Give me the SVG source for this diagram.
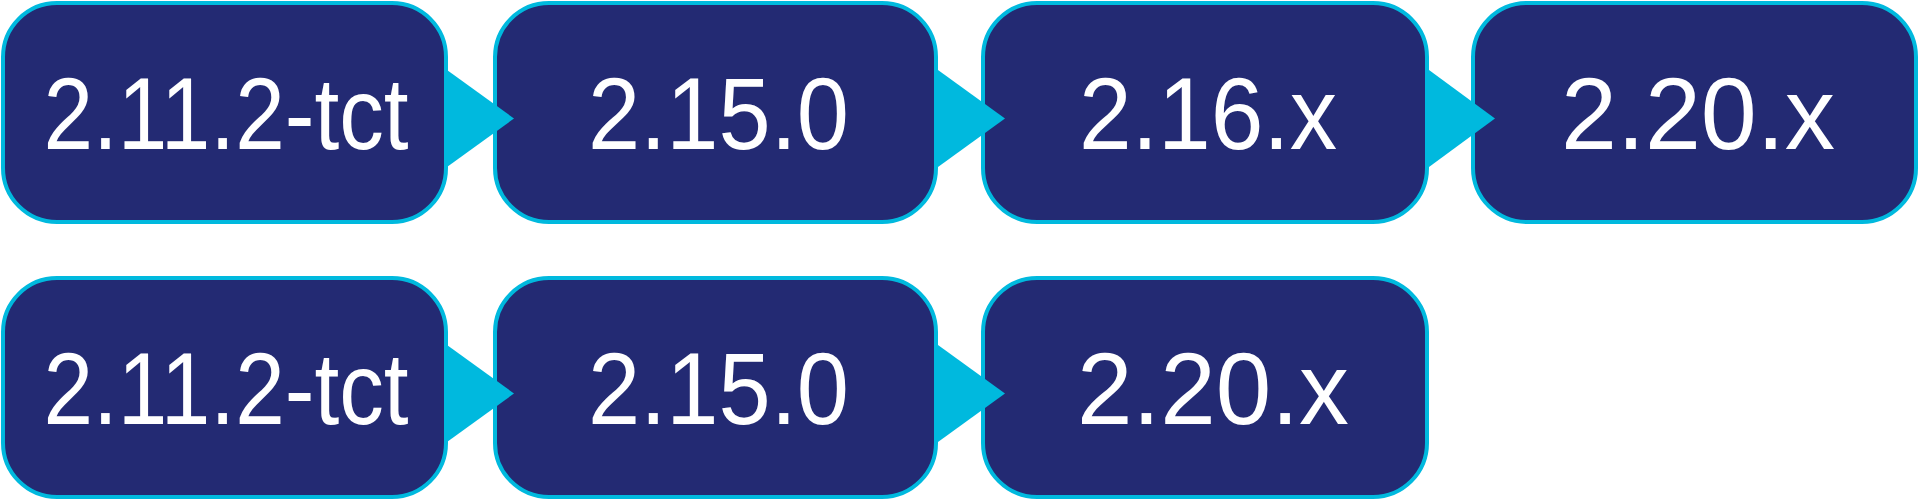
<svg xmlns="http://www.w3.org/2000/svg" width="1920" height="500" viewBox="0 0 1920 500">
<style>
.box{fill:#232A73;stroke:#00B9DE;stroke-width:4}
.lbl{fill:#FFFFFF;font-family:"Liberation Sans","DejaVu Sans",sans-serif;font-size:102px;text-anchor:middle}
.arr{fill:#00B9DE}
</style>
<rect width="1920" height="500" fill="#FFFFFF"/>
<g id="n1"><rect class="box" x="3" y="3" width="443" height="219" rx="54"/><text class="lbl" x="226" y="149" textLength="365" lengthAdjust="spacingAndGlyphs">2.11.2-tct</text></g>
<g id="n2"><rect class="box" x="495" y="3" width="441" height="219" rx="54"/><text class="lbl" x="718.5" y="149" textLength="261" lengthAdjust="spacingAndGlyphs">2.15.0</text></g>
<g id="n3"><rect class="box" x="983" y="3" width="444" height="219" rx="54"/><text class="lbl" x="1208" y="149" textLength="258" lengthAdjust="spacingAndGlyphs">2.16.x</text></g>
<g id="n4"><rect class="box" x="1473" y="3" width="443" height="219" rx="54"/><text class="lbl" x="1698" y="149" textLength="274" lengthAdjust="spacingAndGlyphs">2.20.x</text></g>
<g id="n5"><rect class="box" x="3" y="278" width="443" height="219" rx="54"/><text class="lbl" x="226" y="424" textLength="365" lengthAdjust="spacingAndGlyphs">2.11.2-tct</text></g>
<g id="n6"><rect class="box" x="495" y="278" width="441" height="219" rx="54"/><text class="lbl" x="718.5" y="424" textLength="261" lengthAdjust="spacingAndGlyphs">2.15.0</text></g>
<g id="n7"><rect class="box" x="983" y="278" width="444" height="219" rx="54"/><text class="lbl" x="1213" y="424" textLength="272" lengthAdjust="spacingAndGlyphs">2.20.x</text></g>
<g id="connectors">
<polygon class="arr" points="447,70 514,118.5 447,167"/>
<polygon class="arr" points="938,70 1005,118.5 938,167"/>
<polygon class="arr" points="1429,70 1495,118.5 1429,167"/>
<polygon class="arr" points="447,345 514,393.5 447,442"/>
<polygon class="arr" points="938,345 1005,393.5 938,442"/>
</g>
</svg>
